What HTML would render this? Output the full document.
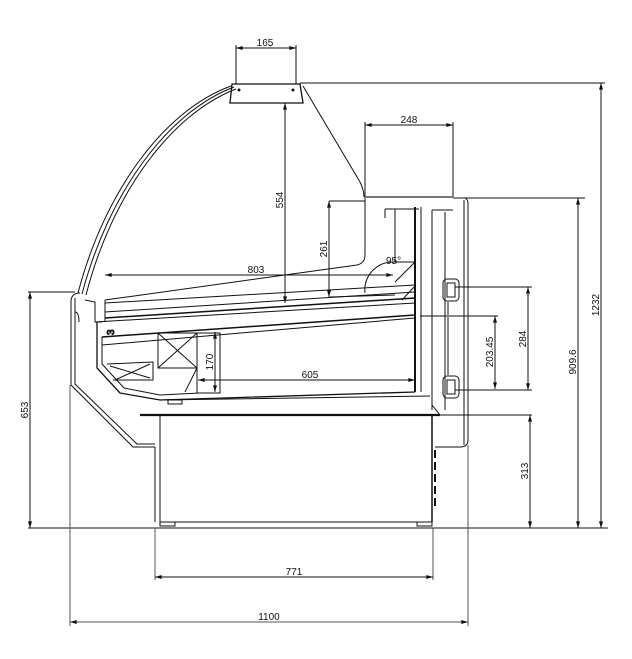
<!DOCTYPE html>
<html><head><meta charset="utf-8"><style>
html,body{margin:0;padding:0;background:#fff;}
svg{display:block;}
text{font-family:"Liberation Sans",sans-serif;font-size:10px;fill:#111;}
</style></head><body>
<svg width="632" height="659" viewBox="0 0 632 659" xmlns="http://www.w3.org/2000/svg">
<defs>
<marker id="a" viewBox="0 0 10 6" refX="10" refY="3" markerWidth="8" markerHeight="4" orient="auto-start-reverse"><path d="M0,0 L10,3 L0,6 z" fill="#111"/></marker>
</defs>
<g fill="none" stroke="#111" stroke-width="1">
<!-- extension lines -->
<line x1="236" y1="45" x2="236" y2="84"/><line x1="296" y1="45" x2="296" y2="84"/>
<line x1="300" y1="83" x2="605" y2="83"/>
<line x1="365" y1="122" x2="365" y2="197"/><line x1="453" y1="122" x2="453" y2="197"/>
<line x1="465" y1="198" x2="585" y2="198"/>
<line x1="329" y1="201" x2="365" y2="201"/>
<line x1="455" y1="287" x2="532" y2="287"/><line x1="455" y1="390" x2="532" y2="390"/>
<line x1="420" y1="316" x2="498" y2="316"/>
<line x1="440" y1="415" x2="532" y2="415"/>
<line x1="28" y1="292" x2="75" y2="292"/>
<line x1="28" y1="528" x2="608" y2="528"/>
<line x1="155" y1="528" x2="155" y2="580" stroke="#555"/><line x1="433" y1="528" x2="433" y2="580" stroke="#555"/>
<line x1="70" y1="385" x2="70" y2="626" stroke="#555"/><line x1="468" y1="445" x2="468" y2="626" stroke="#555"/>
<!-- dimension lines -->
<line x1="236" y1="48" x2="296" y2="48" marker-start="url(#a)" marker-end="url(#a)"/>
<line x1="365" y1="125" x2="453" y2="125" marker-start="url(#a)" marker-end="url(#a)"/>
<line x1="285" y1="103" x2="285" y2="303" marker-start="url(#a)" marker-end="url(#a)"/>
<line x1="329" y1="201" x2="329" y2="297" marker-start="url(#a)" marker-end="url(#a)"/>
<line x1="105" y1="275" x2="393" y2="275" marker-start="url(#a)" marker-end="url(#a)"/>
<line x1="528" y1="287" x2="528" y2="390" marker-start="url(#a)" marker-end="url(#a)"/>
<line x1="495" y1="316" x2="495" y2="389" marker-start="url(#a)" marker-end="url(#a)"/>
<line x1="578" y1="198" x2="578" y2="528" marker-start="url(#a)" marker-end="url(#a)"/>
<line x1="601" y1="83" x2="601" y2="528" marker-start="url(#a)" marker-end="url(#a)"/>
<line x1="530" y1="415" x2="530" y2="528" marker-start="url(#a)" marker-end="url(#a)"/>
<line x1="30" y1="292" x2="30" y2="528" marker-start="url(#a)" marker-end="url(#a)"/>
<line x1="215" y1="332" x2="215" y2="392" marker-start="url(#a)" marker-end="url(#a)"/>
<line x1="198" y1="380" x2="415" y2="380" marker-start="url(#a)" marker-end="url(#a)"/>
<line x1="155" y1="577" x2="433" y2="577" marker-start="url(#a)" marker-end="url(#a)"/>
<line x1="70" y1="622" x2="468" y2="622" marker-start="url(#a)" marker-end="url(#a)" stroke="#555"/>
<!-- canopy -->
<path d="M232,84 L300,84 L303,103 L230,103 Z" stroke-width="1.3"/>
<circle cx="239" cy="90" r="1" fill="#111"/><circle cx="293" cy="90" r="1" fill="#111"/>
<!-- glass -->
<path d="M231,86 C165,110 105,190 78,293"/>
<path d="M234,87 C168,112 109,192 82,294"/>
<path d="M236,89 C171,114 112,194 86,295"/>
<!-- rear slope -->
<path d="M303,86 L360,182 Q364,190 364,197"/>
<!-- rear glass / shelf top -->
<path d="M365,197 L365,255 Q365,263 357,265 L105,300"/>
<line x1="365" y1="197" x2="453" y2="197" stroke="#777" stroke-width="2"/>
<path d="M453,198 L465,198 Q468,199 468,204 L468,440 Q468,447 460,447 L435,447"/>
<line x1="464" y1="200" x2="464" y2="445"/>
<!-- internal verticals -->
<line x1="385" y1="209" x2="419" y2="209"/>
<line x1="385" y1="209" x2="385" y2="218"/>
<line x1="395" y1="209" x2="395" y2="262"/>
<line x1="415" y1="207" x2="415" y2="392" stroke-width="2"/>
<line x1="421" y1="207" x2="421" y2="392"/>
<line x1="432" y1="210" x2="432" y2="410"/>
<line x1="445" y1="212" x2="445" y2="410"/>
<line x1="432" y1="210" x2="453" y2="210"/>
<path d="M392,262 L415,262 L395,282"/>
<path d="M402,300 L415,286"/>
<path d="M365,293 A28,28 0 0 1 392,262"/>
<line x1="330" y1="297" x2="395" y2="295"/>
<!-- shelf -->
<line x1="105" y1="303" x2="415" y2="285"/>
<line x1="105" y1="312" x2="415" y2="292"/>
<line x1="105" y1="318" x2="415" y2="298" stroke-width="1.5"/>
<line x1="95" y1="322" x2="415" y2="303"/>
<line x1="102" y1="337" x2="415" y2="315" stroke-width="1.5"/>
<line x1="102" y1="345" x2="415" y2="318"/>
<line x1="105" y1="300" x2="105" y2="322"/>
<path d="M85,300 L95,302 L95,322 L102,322"/>
<!-- tub -->
<path d="M97,322 L97,368 L120,393 L160,400 L415,392" stroke-width="1.3"/>
<path d="M102,337 L102,364 L124,388 L160,395 L200,393"/>
<line x1="160" y1="400" x2="430" y2="396"/>
<rect x="158" y="333" width="39" height="35"/>
<line x1="158" y1="333" x2="197" y2="368"/><line x1="197" y1="333" x2="158" y2="368"/>
<rect x="197" y="333" width="23" height="60"/>
<path d="M107,364 L153,362 L153,380 L113,380"/>
<line x1="110" y1="366" x2="150" y2="378"/><line x1="150" y1="364" x2="115" y2="380"/>
<line x1="185" y1="392" x2="197" y2="368"/>
<rect x="168" y="400" width="14" height="4"/>
<text x="105" y="334" font-size="9" transform="rotate(-90 110 330)">3</text>
<!-- handles -->
<rect x="443" y="279" width="16" height="22" rx="4"/>
<rect x="447" y="283" width="8" height="14"/>
<rect x="443" y="376" width="16" height="22" rx="4"/>
<rect x="447" y="380" width="8" height="14"/>
<line x1="448" y1="300" x2="448" y2="377" stroke="#888" stroke-width="2"/>
<path d="M432,405 L440,415"/>
<!-- front -->
<path d="M80,293 Q71,293 71,302 L71,385 L133,447 L155,447"/>
<path d="M75,298 L75,384 L137,444 L155,444"/>
<path d="M75,312 Q79,312 79,322"/>
<!-- base -->
<line x1="140" y1="415" x2="440" y2="415" stroke-width="2.2"/>
<line x1="155" y1="447" x2="155" y2="522"/>
<line x1="160" y1="415" x2="160" y2="522"/>
<line x1="432" y1="415" x2="432" y2="522" stroke-width="1.5"/>
<line x1="160" y1="522" x2="432" y2="522"/>
<rect x="160" y="522" width="15" height="4"/>
<rect x="417" y="522" width="15" height="4"/>
<line x1="435" y1="450" x2="435" y2="510" stroke-width="2" stroke-dasharray="8,4"/>
</g>
<!-- labels -->
<text x="265" y="46" text-anchor="middle">165</text>
<text x="409" y="123" text-anchor="middle">248</text>
<text x="256" y="273" text-anchor="middle">803</text>
<text x="310" y="378" text-anchor="middle">605</text>
<text x="294" y="575" text-anchor="middle">771</text>
<text x="269" y="620" text-anchor="middle" font-size="9">1100</text>
<text x="386" y="264" font-size="10">95°</text>
<text transform="translate(283,200) rotate(-90)" text-anchor="middle">554</text>
<text transform="translate(327,249) rotate(-90)" text-anchor="middle">261</text>
<text transform="translate(213,362) rotate(-90)" text-anchor="middle">170</text>
<text transform="translate(493,352) rotate(-90)" text-anchor="middle">203.45</text>
<text transform="translate(526,339) rotate(-90)" text-anchor="middle">284</text>
<text transform="translate(528,471) rotate(-90)" text-anchor="middle">313</text>
<text transform="translate(576,362) rotate(-90)" text-anchor="middle">909.6</text>
<text transform="translate(599,305) rotate(-90)" text-anchor="middle">1232</text>
<text transform="translate(28,410) rotate(-90)" text-anchor="middle">653</text>
</svg>
</body></html>
